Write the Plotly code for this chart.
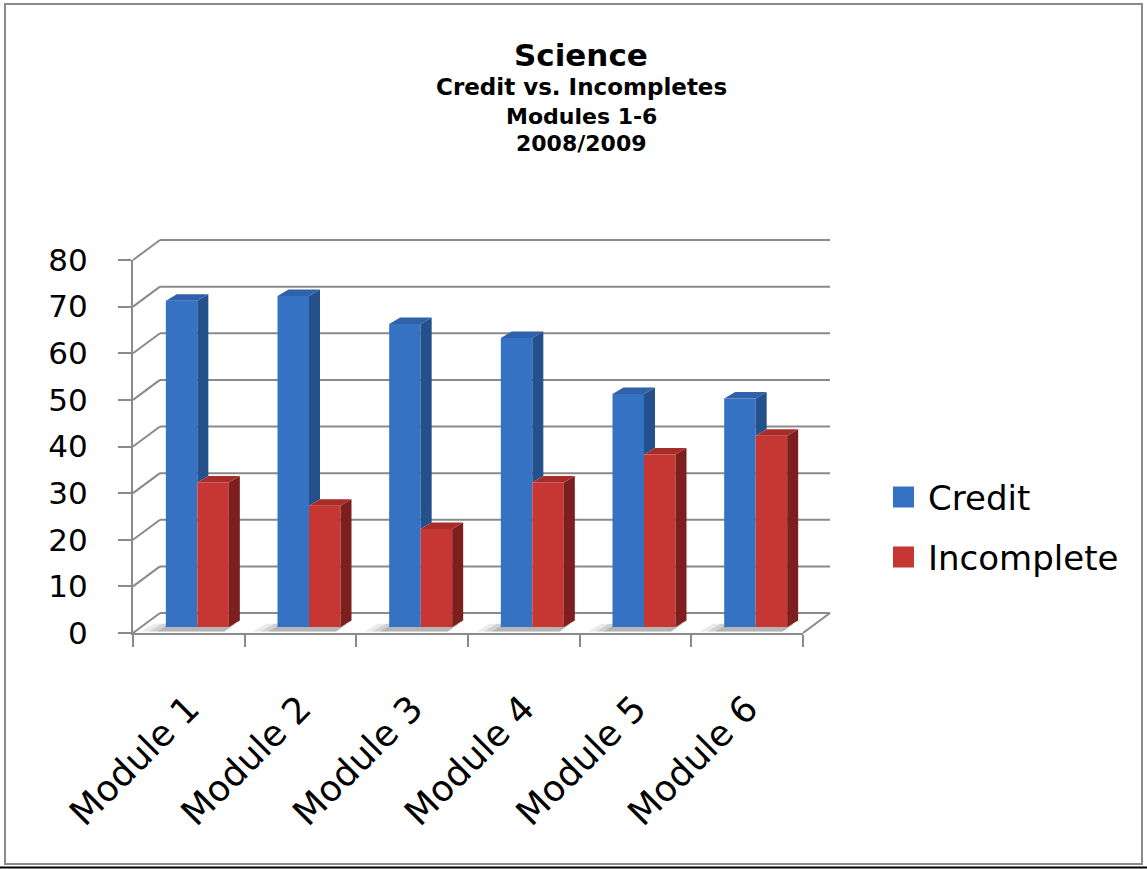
import plotly.graph_objects as go

# ---- data -------------------------------------------------------------
categories = ["Module 1", "Module 2", "Module 3", "Module 4", "Module 5", "Module 6"]
credit = [70, 71, 65, 62, 50, 49]
incomplete = [31, 26, 21, 31, 37, 41]
y_ticks = [0, 10, 20, 30, 40, 50, 60, 70, 80]
series_names = ["Credit", "Incomplete"]
title_lines = ["Science", "Credit vs. Incompletes", "Modules 1-6", "2008/2009"]

# ---- page / frame geometry (pixels) -----------------------------------
W, H = 1147, 869
FONT = "DejaVu Sans"
GRID = "#8a8a8a"

FRONT_L, FRONT_R = 133, 803      # front plane: left / right edge
FRONT_B, FRONT_T = 633, 260      # front plane: value 0 / value 80
BACK_DX, BACK_DY = 27, -20       # back wall offset from the front plane
BAR_DX, BAR_DY = 8.5, -6         # plane of the bar fronts
DEPTH_DX, DEPTH_DY = 11, -6.5    # visible thickness of each column
BAR_W_PX = 31.5                  # width of one column

n = len(categories)
ymax = y_ticks[-1]
px_x = (FRONT_R - FRONT_L) / n
px_y = (FRONT_B - FRONT_T) / ymax

bar_l = FRONT_L + BAR_DX   # pixel x of -0.5 in the bar plane
bar_b = FRONT_B + BAR_DY   # pixel y of 0 in the bar plane


def to_x(px):
    return -0.5 + (px - bar_l) / px_x


def to_y(py):
    return (bar_b - py) / px_y


# large invisible subplot carrying the columns and the walls
A_L, A_R, A_T, A_B = 100, 850, 225, 665

fx, fy = -BAR_DX / px_x, to_y(FRONT_B)                       # front plane offset
bx, by = (BACK_DX - BAR_DX) / px_x, to_y(FRONT_B + BACK_DY)  # back wall offset
dx, dy = DEPTH_DX / px_x, -DEPTH_DY / px_y                   # column depth
bw = BAR_W_PX / px_x

BLUE_FRONT, BLUE_SIDE, BLUE_TOP = "#3672C3", "#24508C", "#2F62AA"
RED_FRONT, RED_SIDE, RED_TOP = "#C63633", "#7D1F1F", "#A82C2A"

xs = list(range(n))

fig = go.Figure()

# front faces of the columns
fig.add_trace(go.Bar(x=xs, y=credit, width=bw, offset=-bw, name=series_names[0],
                     marker=dict(color=BLUE_FRONT, line=dict(width=0)),
                     showlegend=False, hoverinfo="skip"))
fig.add_trace(go.Bar(x=xs, y=incomplete, width=bw, offset=0, name=series_names[1],
                     marker=dict(color=RED_FRONT, line=dict(width=0)),
                     showlegend=False, hoverinfo="skip"))


def poly_trace(polys, color):
    px_, py_ = [], []
    for p in polys:
        for (a, b) in p:
            px_.append(a)
            py_.append(b)
        px_.append(p[0][0])
        py_.append(p[0][1])
        px_.append(None)
        py_.append(None)
    return go.Scatter(x=px_, y=py_, mode="lines", fill="toself", fillcolor=color,
                      line=dict(width=0, color=color), hoverinfo="skip", showlegend=False)


blue_side, blue_top, red_side, red_top = [], [], [], []
for i, (c, r) in enumerate(zip(credit, incomplete)):
    x0, x1, x2 = i - bw, i, i + bw
    low = min(r, c)
    # right side of the credit column, visible above the incomplete column
    blue_side.append([(x1, low), (x1, c), (x1 + dx, c + dy), (x1 + dx, low + dy)])
    blue_top.append([(x0, c), (x1, c), (x1 + dx, c + dy), (x0 + dx, c + dy)])
    red_side.append([(x2, 0), (x2, r), (x2 + dx, r + dy), (x2 + dx, dy)])
    red_top.append([(x1, r), (x2, r), (x2 + dx, r + dy), (x1 + dx, r + dy)])

fig.add_trace(poly_trace(blue_side, BLUE_SIDE))
fig.add_trace(poly_trace(blue_top, BLUE_TOP))
fig.add_trace(poly_trace(red_side, RED_SIDE))
fig.add_trace(poly_trace(red_top, RED_TOP))

# invisible trace that puts the categories on the front axis
fig.add_trace(go.Scatter(x=categories, y=[0] * n, xaxis="x2", yaxis="y2", mode="markers",
                         marker=dict(opacity=0), hoverinfo="skip", showlegend=False))

shapes = []
# back wall gridlines and left wall diagonals
for v in y_ticks:
    shapes.append(dict(type="line", xref="x", yref="y", layer="below",
                       x0=-0.5 + bx, x1=n - 0.5 + bx, y0=v + by, y1=v + by,
                       line=dict(color=GRID, width=2)))
    shapes.append(dict(type="line", xref="x", yref="y", layer="below",
                       x0=-0.5 + fx, x1=-0.5 + bx, y0=v + fy, y1=v + by,
                       line=dict(color=GRID, width=2)))
# right edge of the floor
shapes.append(dict(type="line", xref="x", yref="y", layer="below",
                   x0=n - 0.5 + fx, x1=n - 0.5 + bx, y0=fy, y1=by,
                   line=dict(color=GRID, width=2)))
# soft shadows on the floor, falling to the lower left of each column pair
for i in range(n):
    x0, x2 = i - bw, i + bw
    for k, alpha in enumerate([0.18, 0.28, 0.4]):
        off = 0.22 - 0.07 * k
        path = (f"M{x0 - off},{fy * 0.75} L{x2 - 0.04},{fy * 0.75} "
                f"L{x2 + dx * 0.6},{dy * 0.5} L{x0 - off + 0.12},{dy * 0.5} Z")
        shapes.append(dict(type="path", xref="x", yref="y", layer="below", path=path,
                           fillcolor=f"rgba(140,140,140,{alpha})", line=dict(width=0)))

# outer frame
shapes.append(dict(type="rect", xref="paper", yref="paper",
                   x0=5 / W, x1=1142 / W, y0=1 - 864 / H, y1=1 - 4 / H,
                   line=dict(color=GRID, width=2)))
shapes.append(dict(type="line", xref="paper", yref="paper",
                   x0=0, x1=1, y0=1 - 867.5 / H, y1=1 - 867.5 / H,
                   line=dict(color="#000000", width=2)))

# legend swatches
legend_rows = [(497, BLUE_FRONT), (557, RED_FRONT)]
for cy, col in legend_rows:
    shapes.append(dict(type="rect", xref="paper", yref="paper",
                       x0=893 / W, x1=914 / W, y0=1 - (cy + 10.5) / H, y1=1 - (cy - 10.5) / H,
                       fillcolor=col, line=dict(width=0)))

annotations = []
for (cy, _), name in zip(legend_rows, series_names):
    annotations.append(dict(text=name, xref="paper", yref="paper", x=926 / W, y=1 - (cy + 1) / H,
                            xanchor="left", yanchor="middle", showarrow=False,
                            font=dict(family=FONT, size=34, color="#000000")))

title_rows = [(54, 31), (86, 23), (115, 22), (143, 22)]
for (cy, size), line in zip(title_rows, title_lines):
    annotations.append(dict(text=f"<b>{line}</b>", xref="paper", yref="paper",
                            x=581 / W, y=1 - (cy + 1) / H, xanchor="center", yanchor="middle",
                            showarrow=False, font=dict(family=FONT, size=size, color="#000000")))

fig.update_layout(
    template="none",
    width=W, height=H,
    margin=dict(l=0, r=0, t=0, b=0, pad=0, autoexpand=False),
    paper_bgcolor="white", plot_bgcolor="rgba(0,0,0,0)",
    barmode="overlay",
    showlegend=False,
    shapes=shapes,
    annotations=annotations,
    xaxis=dict(domain=[A_L / W, A_R / W], range=[to_x(A_L), to_x(A_R)], visible=False,
               fixedrange=True, automargin=False),
    yaxis=dict(domain=[1 - A_B / H, 1 - A_T / H], range=[to_y(A_B), to_y(A_T)], visible=False,
               fixedrange=True, automargin=False),
    xaxis2=dict(domain=[FRONT_L / W, FRONT_R / W], anchor="y2", type="category",
                categoryorder="array", categoryarray=categories, range=[-0.5, n - 0.5],
                showline=True, linecolor=GRID, linewidth=2, showgrid=False, zeroline=False,
                ticks="outside", tickson="boundaries", ticklen=12, tickwidth=2, tickcolor=GRID,
                tickangle=-45, ticklabelstandoff=38, automargin=False,
                tickfont=dict(family=FONT, size=36, color="#000000")),
    yaxis2=dict(domain=[1 - FRONT_B / H, 1 - FRONT_T / H], anchor="x2", range=[0, ymax],
                tickvals=y_ticks, showline=True, linecolor=GRID, linewidth=2, showgrid=False,
                zeroline=False, ticks="outside", ticklen=13, tickwidth=2, tickcolor=GRID,
                ticklabelstandoff=24, automargin=False,
                tickfont=dict(family=FONT, size=31, color="#000000")),
)

fig.write_html("out.html")
